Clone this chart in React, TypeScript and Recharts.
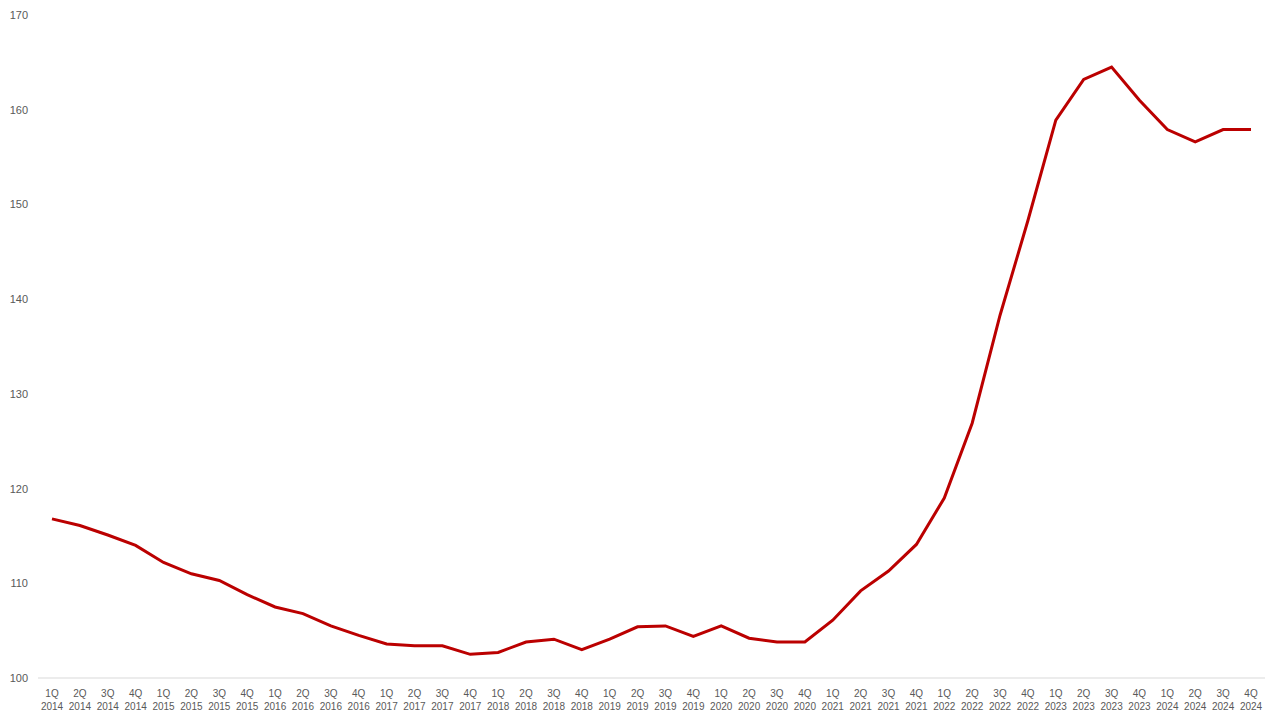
import React from 'react';
import { LineChart, Line, XAxis, YAxis } from 'recharts';

// quarters 1Q 2014 .. 4Q 2024
const years = ['2014', '2015', '2016', '2017', '2018', '2019', '2020', '2021', '2022', '2023', '2024'];
const quarters = ['1Q', '2Q', '3Q', '4Q'];

const indexValues = [
  116.8, 116.1, 115.1, 114.0,
  112.2, 111.0, 110.3, 108.8,
  107.5, 106.8, 105.5, 104.5,
  103.6, 103.4, 103.4, 102.5,
  102.7, 103.8, 104.1, 103.0,
  104.1, 105.4, 105.5, 104.4,
  105.5, 104.2, 103.8, 103.8,
  106.1, 109.2, 111.3, 114.1,
  119.0, 126.9, 138.3, 148.3,
  158.9, 163.2, 164.5, 161.0,
  157.9, 156.6, 157.9, 157.9,
];

const yTicks = [100, 110, 120, 130, 140, 150, 160, 170];

const data = indexValues.map((v, i) => ({
  label: `${quarters[i % 4]} ${years[Math.floor(i / 4)]}`,
  value: v,
}));

const textColor = '#595959';
const fontFamily = '"Liberation Sans", Arial, sans-serif';

// two-line tick: quarter on top, year below
const QuarterTick = (props: any) => {
  const { x, y, payload } = props;
  const [q, yr] = String(payload.value).split(' ');
  return (
    <g transform={`translate(${x},${y})`}>
      <text textAnchor="middle" fill={textColor} fontSize={10} fontFamily={fontFamily}>
        <tspan x={0} dy={11}>{q}</tspan>
        <tspan x={0} dy={13}>{yr}</tspan>
      </text>
    </g>
  );
};

const ValueTick = (props: any) => {
  const { y, payload } = props;
  return (
    <text x={28} y={y} dy={4} textAnchor="end" fill={textColor} fontSize={11} fontFamily={fontFamily}>
      {payload.value}
    </text>
  );
};

export default function App() {
  return (
    <div style={{ position: 'absolute', top: 0, left: 0, width: 1280, height: 720, background: '#fff' }}>
      <LineChart width={1280} height={720} data={data} margin={{ top: 15, right: 15, left: 0, bottom: 0 }}>
        <XAxis
          dataKey="label"
          interval={0}
          height={42}
          padding={{ left: 14, right: 14 }}
          tickLine={false}
          axisLine={{ stroke: '#d9d9d9' }}
          tick={<QuarterTick />}
        />
        <YAxis
          domain={[100, 170]}
          ticks={yTicks}
          width={38}
          axisLine={false}
          tickLine={false}
          tick={<ValueTick />}
        />
        <Line
          type="linear"
          dataKey="value"
          stroke="#bb0000"
          strokeWidth={3}
          dot={false}
          isAnimationActive={false}
        />
      </LineChart>
    </div>
  );
}
